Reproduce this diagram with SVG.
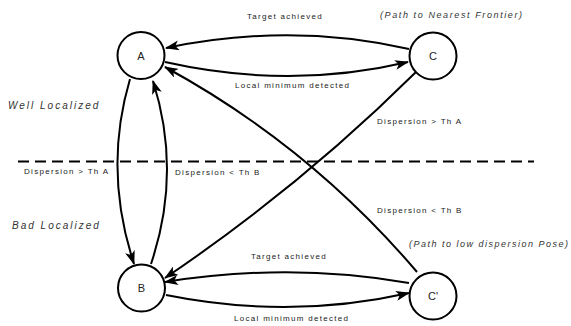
<svg xmlns="http://www.w3.org/2000/svg" width="571" height="326" viewBox="0 0 571 326">
<style>
.node{fill:#fff;stroke:#000;stroke-width:2}
.nl{font-family:"Liberation Sans",Arial,sans-serif;font-size:11px;fill:#222;text-anchor:middle}
.edge{fill:none;stroke:#000;stroke-width:2}
.lbl{font-family:"Liberation Sans",Arial,sans-serif;font-size:8px;letter-spacing:1.3px;fill:#222}
.it{font-family:"Liberation Sans",Arial,sans-serif;font-style:italic;fill:#333}
</style>
<defs>
<marker id="arr" viewBox="0 0 14 10" refX="13" refY="5" markerWidth="14" markerHeight="10" markerUnits="userSpaceOnUse" orient="auto">
<path d="M0,0 L14,5 L0,10 L3.5,5 z" fill="#000"/>
</marker>
</defs>
<line x1="18" y1="161.5" x2="534" y2="161.5" stroke="#000" stroke-width="2" stroke-dasharray="11 6"/>
<text class="it" x="8" y="109" font-size="10" letter-spacing="2">Well Localized</text>
<text class="it" x="12" y="229" font-size="10" letter-spacing="2">Bad Localized</text>
<text class="it" x="380" y="18" font-size="9" letter-spacing="1.6">(Path to Nearest Frontier)</text>
<text class="it" x="409" y="247" font-size="9" letter-spacing="1.5">(Path to low dispersion Pose)</text>
<g id="connectors">
<path class="edge" marker-end="url(#arr)" d="M409,49 Q290,22 166,48"/>
<path class="edge" marker-end="url(#arr)" d="M165,62 Q290,90 408,62"/>
<path class="edge" marker-end="url(#arr)" d="M130,79 Q103,170 134,264"/>
<path class="edge" marker-end="url(#arr)" d="M151,264 Q182,172 153,81"/>
<path class="edge" marker-end="url(#arr)" d="M416,72 Q300,187 165,278"/>
<path class="edge" marker-end="url(#arr)" d="M417,272 Q310,146 165,67"/>
<path class="edge" marker-end="url(#arr)" d="M409,283 Q290,262 165,282"/>
<path class="edge" marker-end="url(#arr)" d="M166,295 Q290,320 409,293"/>
<text class="lbl" x="247" y="19">Target achieved</text>
<text class="lbl" x="235" y="88">Local minimum detected</text>
<text class="lbl" x="24" y="174">Dispersion &gt; Th A</text>
<text class="lbl" x="175" y="175">Dispersion &lt; Th B</text>
<text class="lbl" x="377" y="124">Dispersion &gt; Th A</text>
<text class="lbl" x="377" y="213">Dispersion &lt; Th B</text>
<text class="lbl" x="251" y="259">Target achieved</text>
<text class="lbl" x="234" y="321">Local minimum detected</text>
</g>
<g id="node-A"><circle class="node" cx="141" cy="55.5" r="23.5"/><text class="nl" x="141" y="59.5">A</text></g>
<g id="node-C"><circle class="node" cx="433" cy="56" r="23.5"/><text class="nl" x="433" y="60">C</text></g>
<g id="node-B"><circle class="node" cx="141.5" cy="288" r="23.5"/><text class="nl" x="141.5" y="292">B</text></g>
<g id="node-Cp"><circle class="node" cx="433" cy="296" r="23.5"/><text class="nl" x="433" y="300">C'</text></g>
</svg>
